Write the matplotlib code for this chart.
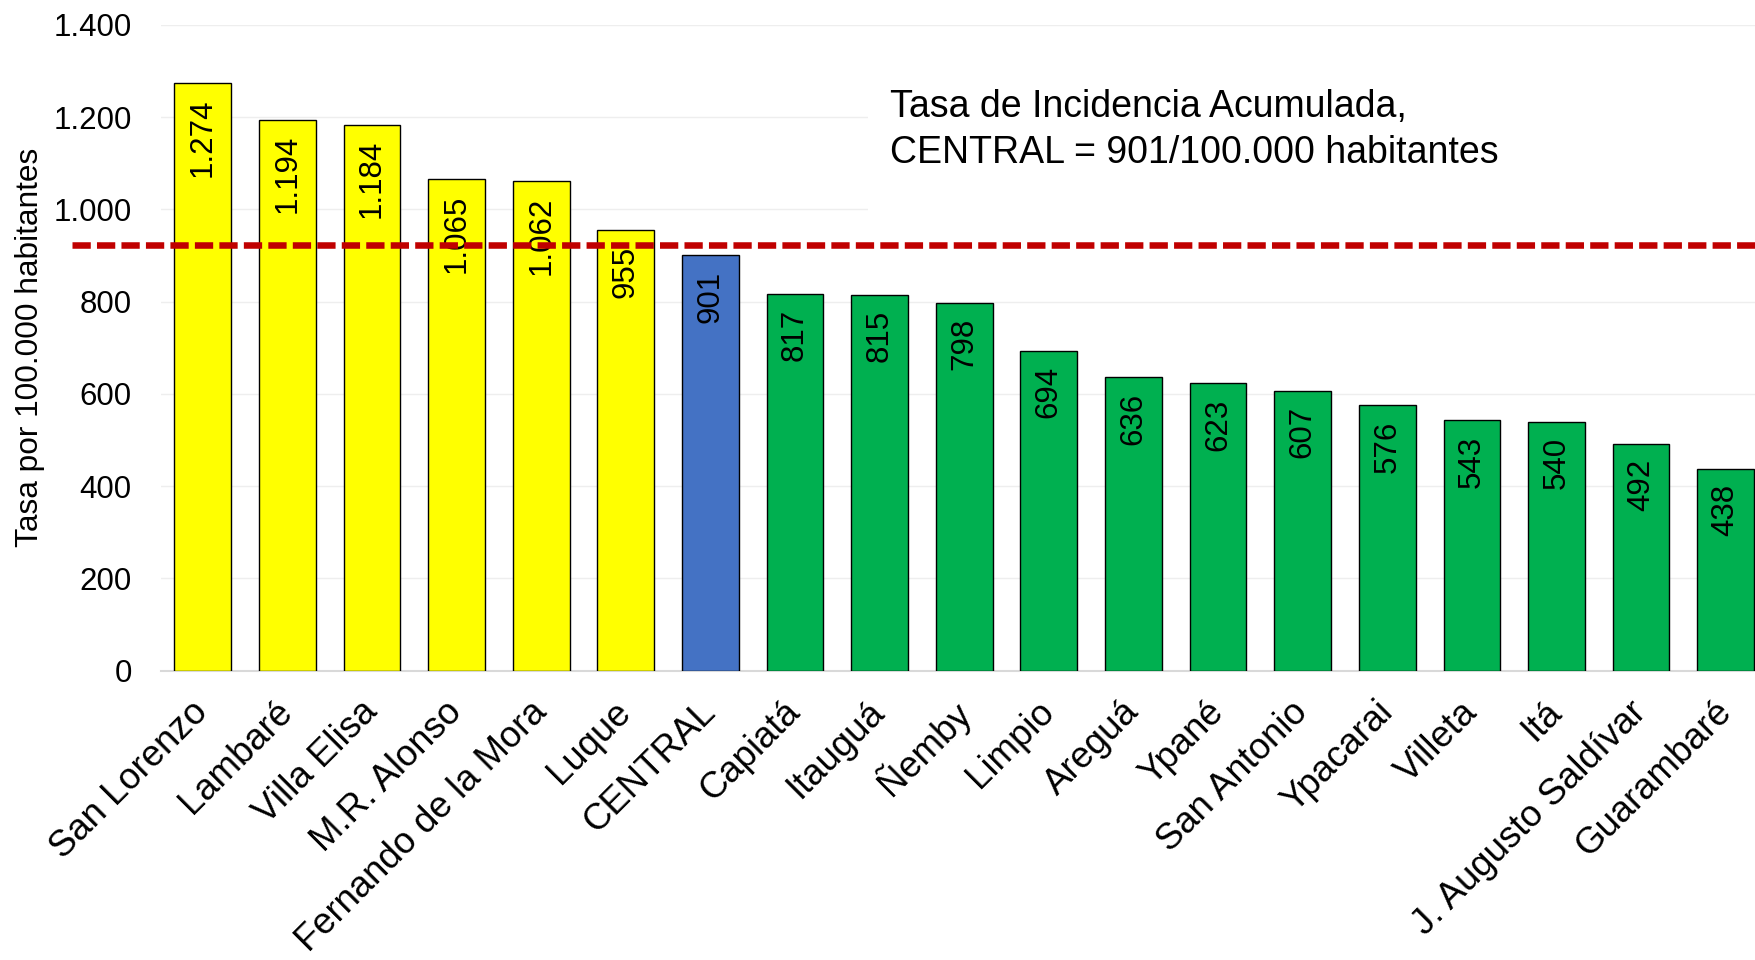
import matplotlib
matplotlib.use("Agg")
import matplotlib.pyplot as plt
from matplotlib.patches import Rectangle

# data
districts = ["San Lorenzo", "Lambaré", "Villa Elisa", "M.R. Alonso",
             "Fernando de la Mora", "Luque", "CENTRAL", "Capiatá",
             "Itauguá", "Ñemby", "Limpio", "Areguá", "Ypané",
             "San Antonio", "Ypacarai", "Villeta", "Itá",
             "J. Augusto Saldívar", "Guarambaré"]
rates = [1274, 1194, 1184, 1065, 1062, 955, 901, 817, 815, 798, 694,
         636, 623, 607, 576, 543, 540, 492, 438]
groups = ["alto"] * 6 + ["central"] + ["bajo"] * 12
ref_line = 922
y_ticks = [0, 200, 400, 600, 800, 1000, 1200, 1400]
note = "Tasa de Incidencia Acumulada,\nCENTRAL = 901/100.000 habitantes"
y_title = "Tasa por 100.000 habitantes"

group_colors = {"alto": "#FFFF00", "central": "#4472C4", "bajo": "#00B050"}


def fmt(v):
    """miles con punto, como en el original"""
    return f"{v:,}".replace(",", ".")


def main():
    plt.rcParams["font.family"] = ["Liberation Sans", "DejaVu Sans"]

    fig = plt.figure(figsize=(17.56, 9.6), dpi=100)
    ax = fig.add_axes([0.0917, 0.3014, 0.9083, 0.6726])

    x = list(range(len(districts)))
    colors = [group_colors[g] for g in groups]
    ax.bar(x, rates, width=0.67, color=colors, edgecolor="black",
           linewidth=1.0, zorder=3)

    for xi, v in zip(x, rates):
        ax.annotate(fmt(v), (xi, v), xytext=(0, -11),
                    textcoords="offset points", rotation=90,
                    ha="center", va="top", fontsize=22.5, zorder=4)

    # white box behind the note hides the gridlines
    ax.add_patch(Rectangle((0.443, 0.682), 0.6, 0.282,
                           transform=ax.transAxes, facecolor="white",
                           edgecolor="none", zorder=1))
    ax.text(0.457, 0.901, note, transform=ax.transAxes, fontsize=27,
            ha="left", va="top", linespacing=1.35, zorder=4)

    ax.axhline(ref_line, xmin=-0.056, xmax=1.0, color="#C00000",
               linewidth=4.7, dashes=(2.8, 0.95), clip_on=False, zorder=5)

    ax.set_xlim(-0.493, len(districts) - 1 + 0.358)
    ax.set_ylim(0, 1400)
    ax.set_yticks(y_ticks)
    ax.set_yticklabels([fmt(t) for t in y_ticks], fontsize=22.5)
    ax.set_xticks(x)
    ax.set_xticklabels(districts, rotation=45, ha="right", va="center",
                       rotation_mode="anchor", fontsize=26.3)
    ax.tick_params(axis="both", length=0)
    ax.tick_params(axis="y", pad=21)
    ax.tick_params(axis="x", pad=26)

    ax.set_ylabel(y_title, fontsize=22.8)
    ax.yaxis.set_label_coords(-0.0727, 0.5)

    ax.grid(axis="y", color="#EEEEEE", linewidth=1.0)
    ax.set_axisbelow(True)
    for side in ["top", "right", "left"]:
        ax.spines[side].set_visible(False)
    ax.spines["bottom"].set_color("#D9D9D9")
    ax.spines["bottom"].set_linewidth(1.5)

    fig.savefig("out.png", dpi=100)


if __name__ == "__main__":
    main()
